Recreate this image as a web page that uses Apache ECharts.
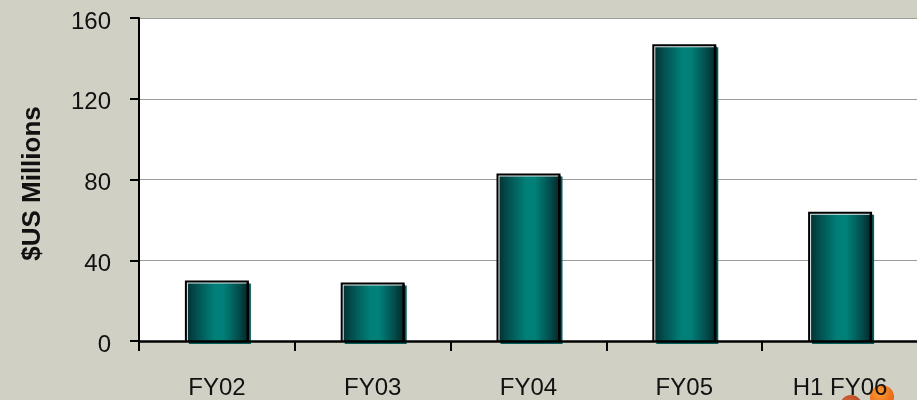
<!DOCTYPE html>
<html><head><meta charset="utf-8">
<style>html,body{margin:0;padding:0;background:#d0d0c5}#c{width:917px;height:400px}</style>
<script src="https://cdn.jsdelivr.net/npm/echarts@6/dist/echarts.min.js"></script>
</head><body><div id="c"></div>
<script>
const categories = ['FY02','FY03','FY04','FY05','H1 FY06'];
const values = [30, 29, 83, 147, 64];
const yTicks = {min:0, max:160, interval:40};
const font = '"Liberation Sans", Arial, sans-serif';
const chart = echarts.init(document.getElementById('c'), null, {renderer:'canvas'});
const teal = new echarts.graphic.LinearGradient(0,0,1,0,[
  {offset:0,color:'#023434'},{offset:0.15,color:'#035050'},{offset:0.45,color:'#008078'},
  {offset:0.6,color:'#008078'},{offset:0.85,color:'#034f4f'},{offset:1,color:'#012c2c'}]);
function orb(cx,cy,r,a,b){return {type:'circle',silent:true,shape:{cx,cy,r},z:1,style:{fill:new echarts.graphic.RadialGradient(0.4,0.35,0.7,[{offset:0,color:a},{offset:1,color:b}])}};}
function renderBar(params, api){
  const top = api.coord([api.value(0), api.value(1)]);
  const base = api.coord([api.value(0), 0]);
  const cx = top[0], ty = top[1], by = base[1];
  const r = (x0,y0,x1,y1,fill)=>({type:'rect',shape:{x:cx+x0,y:y0,width:x1-x0,height:y1-y0},style:{fill}});
  return {type:'group',children:[
    r(-28,ty+3,34,by+3,'#045c5c'),
    r(-32,ty,32,by,'#000'),
    r(-30,ty+2,30,by,'#e4ebeb'),
    r(-29,ty+3,30,by,teal),
    r(29.5,ty+2,32,by,'#000')
  ]};
}
chart.setOption({
  animation:false,
  backgroundColor:'#d0d0c5',
  grid:{left:139,right:-1,top:18,bottom:59,outerBoundsMode:'none',show:true,backgroundColor:'#fff',borderWidth:0},
  xAxis:{type:'category',data:categories,boundaryGap:true,z:6,
    axisLine:{lineStyle:{color:'#000',width:2.5}},
    axisTick:{show:true,length:10,alignWithLabel:false,lineStyle:{color:'#000',width:2}},
    axisLabel:{color:'#111',fontFamily:font,fontSize:24,margin:35,interval:0,hideOverlap:false},
    splitLine:{show:false}},
  yAxis:{type:'value',min:yTicks.min,max:yTicks.max,interval:yTicks.interval,
    name:'$US Millions',nameLocation:'middle',nameGap:93,nameRotate:90,
    nameTextStyle:{fontFamily:font,fontSize:26,fontWeight:'bold',color:'#111',padding:[0,8,0,0]},
    axisLine:{show:true,lineStyle:{color:'#000',width:2}},
    axisTick:{show:true,length:9,lineStyle:{color:'#000',width:2}},
    axisLabel:{color:'#111',fontFamily:font,fontSize:24,margin:28,verticalAlign:'top',lineHeight:8,showMinLabel:true,showMaxLabel:true},
    splitLine:{show:true,lineStyle:{color:'#9c9c9c',width:1.2}}},
  series:[{type:'custom',renderItem:renderBar,data:values.map((v,i)=>[i,v]),encode:{x:0,y:1},z:3}],
  graphic:[orb(851,406,11,'#d9683a','#a83d1e'),orb(882,397,12,'#ff9a2e','#e2601a')]
});
</script></body></html>
